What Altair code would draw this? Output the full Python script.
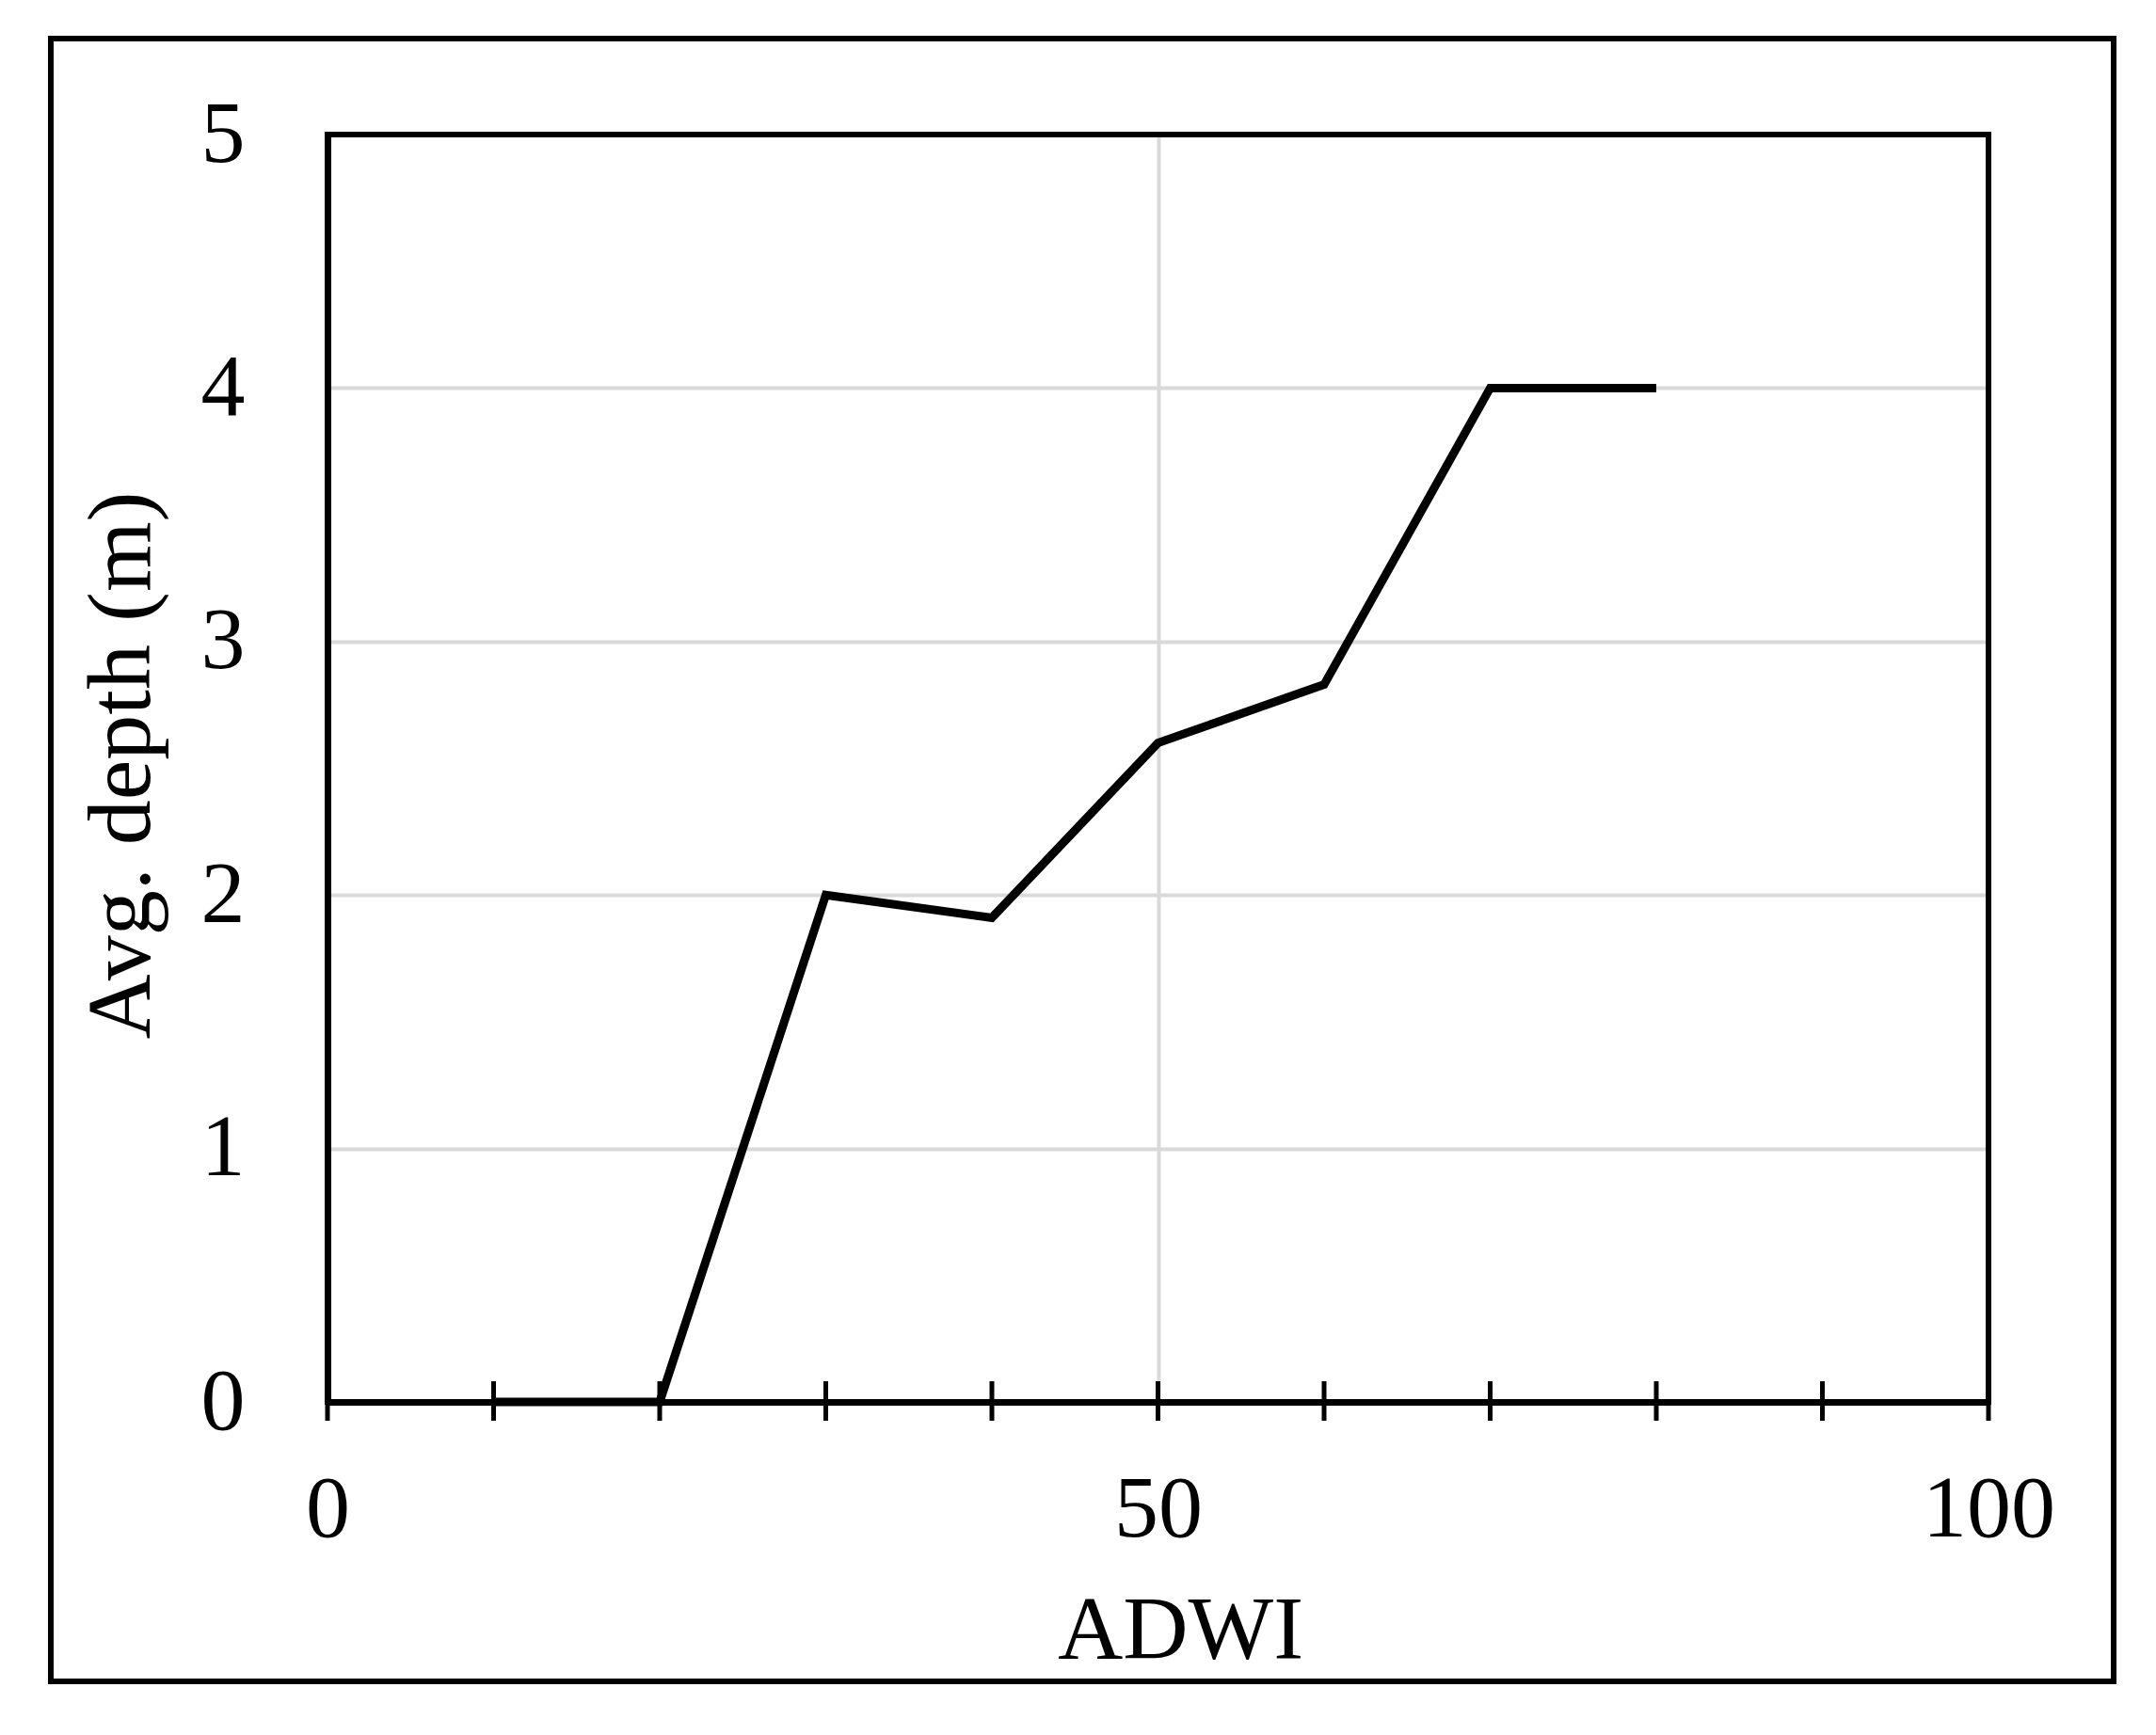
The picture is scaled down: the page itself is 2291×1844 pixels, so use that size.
import altair as alt
import pandas as pd

# Data
adwi = [10, 20, 30, 40, 50, 60, 70, 80]
depth = [0.0, 0.0, 2.0, 1.91, 2.60, 2.83, 4.0, 4.0]
minor_ticks = [0, 10, 20, 30, 40, 50, 60, 70, 80, 90, 100]
x_labels = [0, 50, 100]
y_labels = [0, 1, 2, 3, 4, 5]

W, H = 1765, 1347
FONT = "Liberation Serif"
GRID = "#d9d9d9"

df = pd.DataFrame({"ADWI": adwi, "depth": depth})
ticks_df = pd.DataFrame({"t": minor_ticks})
one_df = pd.DataFrame({"k": [0]})

x_scale = alt.Scale(domain=[0, 100], nice=False)
y_scale = alt.Scale(domain=[0, 5], nice=False)

line = alt.Chart(df).mark_line(color="black", strokeWidth=9, strokeCap="butt").encode(
    x=alt.X("ADWI:Q", scale=x_scale, axis=alt.Axis(
        values=x_labels, grid=True,
        gridColor={"condition": {"test": "datum.value == 0 || datum.value == 100",
                                 "value": "transparent"}, "value": GRID},
        gridWidth=4,
        ticks=False, tickSize=0, domainColor="black", domainWidth=7,
        labelFont=FONT, labelFontSize=94, labelColor="black", labelPadding=114,
        labelBaseline="middle", labelFlush=False,
        title="ADWI", titleFont=FONT, titleFontSize=96, titleFontWeight="normal",
        titleColor="black", titleX=906, titleY=272, titleAlign="center",
        titleBaseline="alphabetic")),
    y=alt.Y("depth:Q", scale=y_scale, axis=alt.Axis(
        values=y_labels, grid=True,
        gridColor={"condition": {"test": "datum.value == 0 || datum.value == 5",
                                 "value": "transparent"}, "value": GRID},
        gridWidth=4,
        ticks=False, tickSize=0, domainColor="black", domainWidth=7,
        labelFont=FONT, labelFontSize=94, labelColor="black", labelPadding=88,
        labelBaseline="middle", labelFlush=False,
        title="Avg. depth (m)", titleFont=FONT, titleFontSize=96,
        titleFontWeight="normal", titleColor="black", titleX=-190, titleY=670,
        titleAngle=270, titleAlign="center", titleBaseline="alphabetic")),
)

tick_marks = alt.Chart(ticks_df).mark_rule(color="black", strokeWidth=5).encode(
    x=alt.X("t:Q", scale=x_scale),
    y=alt.value(H - 22),
    y2=alt.value(H + 20),
)

plot_border = alt.Chart(one_df).mark_rect(
    fill="transparent", stroke="black", strokeWidth=6, clip=False
).encode(
    x=alt.value(0), x2=alt.value(W),
    y=alt.value(0), y2=alt.value(H),
)

frame = alt.Chart(one_df).mark_rect(
    fill="transparent", stroke="black", strokeWidth=6, clip=False
).encode(
    x=alt.value(-294), x2=alt.value(1898),
    y=alt.value(-102), y2=alt.value(1644),
)

chart = alt.layer(frame, plot_border, line, tick_marks).properties(
    width=W, height=H,
    autosize=alt.AutoSizeParams(type="none"),
    padding={"left": 340, "top": 135, "right": 170, "bottom": 340},
).configure_view(
    stroke=None
).configure(background="white")

chart.save("out.html", embed_options={"renderer": "svg", "actions": False})
